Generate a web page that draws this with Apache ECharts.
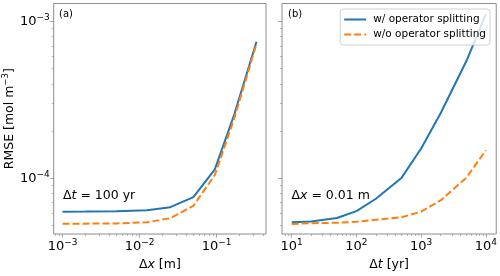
<!DOCTYPE html>
<html>
<head>
<meta charset="utf-8">
<script src="https://cdn.jsdelivr.net/npm/echarts@6/dist/echarts.min.js"></script>
<style>
html,body{margin:0;padding:0;background:#fff;}
#c{width:500px;height:276px;}
</style>
</head>
<body>
<div id="c"></div>
<script>
// ---- data ----
const dxValues = [0.001, 0.002, 0.005, 0.0125, 0.025, 0.05, 0.095, 0.17, 0.33];
const rmseDxWith = [6.13e-5, 6.14e-5, 6.16e-5, 6.25e-5, 6.55e-5, 7.59e-5, 1.14e-4, 2.56e-4, 7.43e-4];
const rmseDxWithout = [5.14e-5, 5.14e-5, 5.16e-5, 5.24e-5, 5.57e-5, 6.68e-5, 1.05e-4, 2.42e-4, 7.2e-4];

const dtValues = [10, 20, 50, 100, 200, 500, 1000, 2000, 5000, 10000];
const rmseDtWith = [5.24e-5, 5.3e-5, 5.58e-5, 6.18e-5, 7.41e-5, 1.01e-4, 1.55e-4, 2.6e-4, 5.6e-4, 1.11e-3];
const rmseDtWithout = [5.12e-5, 5.17e-5, 5.21e-5, 5.28e-5, 5.44e-5, 5.65e-5, 6.13e-5, 7.23e-5, 1.01e-4, 1.51e-4];

const seriesNames = ['w/ operator splitting', 'w/o operator splitting'];
const panelLabels = ['(a)', '(b)'];
const yMajorTicks = [1e-4, 1e-3];
const xMajorTicksA = [1e-3, 1e-2, 1e-1];
const xMajorTicksB = [1e1, 1e2, 1e3, 1e4];

// ---- helpers ----
function minors(lo, hi, from, to) {
  const out = [];
  for (let e = from; e <= to; e++) {
    for (let m = 2; m <= 9; m++) {
      const v = m * Math.pow(10, e);
      if (v > lo && v < hi) out.push(v);
    }
  }
  return out;
}
function pow10Label(v) {
  const e = Math.round(Math.log10(v));
  const s = e < 0 ? '\u2212' + (-e) : String(e);
  return '{b|10}{s|' + s + '}';
}
const FONT = 'DejaVu Sans';
const labelRich = {
  b: { fontSize: 13, fontFamily: FONT, color: '#000' },
  s: { fontSize: 9, fontFamily: FONT, color: '#000', padding: [0, 0, 8, 0] }
};

const yMin = Math.pow(10, -4.355), yMax = Math.pow(10, -2.885);
const xaMin = Math.pow(10, -3.115), xaMax = Math.pow(10, -0.358);
const xbMin = Math.pow(10, 0.85), xbMax = Math.pow(10, 4.16);

const gridTop = 3.5, gridH = 237.2;
const grids = [
  { left: 53.3, top: gridTop, width: 212.7, height: gridH, show: true, borderColor: '#8c8c8c', borderWidth: 1, backgroundColor: 'transparent' },
  { left: 282, top: gridTop, width: 214.7, height: gridH, show: true, borderColor: '#8c8c8c', borderWidth: 1, backgroundColor: 'transparent' }
];

const tickColor = '#8c8c8c';
function majorAxis(type, gridIndex, min, max, ticks, showLabels, extra) {
  return Object.assign({
    type: 'log', logBase: 10, gridIndex, min, max,
    axisLine: { show: false },
    splitLine: { show: false },
    axisTick: { show: true, inside: false, length: 3.5, customValues: ticks, lineStyle: { color: tickColor, width: 0.8 } },
    axisLabel: { show: showLabels, customValues: ticks, formatter: pow10Label, rich: labelRich, margin: 4 }
  }, extra || {});
}
function minorAxis(gridIndex, min, max, ticks, position) {
  return {
    type: 'log', logBase: 10, gridIndex, min, max, position,
    axisLine: { show: false }, splitLine: { show: false },
    axisTick: { show: true, inside: false, length: 2, customValues: ticks, lineStyle: { color: tickColor, width: 0.6 } },
    axisLabel: { show: false }
  };
}
const nameRich = {
  n: { fontSize: 12.5, fontFamily: FONT, color: '#000' },
  i: { fontSize: 12.5, fontFamily: FONT, fontStyle: 'italic', color: '#000' },
  s: { fontSize: 8.5, fontFamily: FONT, color: '#000', padding: [0, 0, 8, 0] }
};

const xAxes = [
  majorAxis('x', 0, xaMin, xaMax, xMajorTicksA, true, {
    name: '{n|\u0394}{i|x}{n| [m]}', nameLocation: 'middle', nameGap: 24, nameTextStyle: { rich: nameRich }
  }),
  majorAxis('x', 1, xbMin, xbMax, xMajorTicksB, true, {
    name: '{n|\u0394}{i|t}{n| [yr]}', nameLocation: 'middle', nameGap: 24, nameTextStyle: { rich: nameRich }
  }),
  minorAxis(0, xaMin, xaMax, minors(xaMin, xaMax, -4, 0), 'bottom'),
  minorAxis(1, xbMin, xbMax, minors(xbMin, xbMax, 0, 4), 'bottom')
];
const yAxes = [
  majorAxis('y', 0, yMin, yMax, yMajorTicks, true, {
    name: '{n|RMSE [mol m}{s|\u22123}{n|]}', nameLocation: 'middle', nameGap: 32, nameRotate: 90, nameTextStyle: { rich: nameRich }
  }),
  majorAxis('y', 1, yMin, yMax, yMajorTicks, false),
  minorAxis(0, yMin, yMax, minors(yMin, yMax, -5, -3), 'left'),
  minorAxis(1, yMin, yMax, minors(yMin, yMax, -5, -3), 'left')
];

const blue = '#1f77b4', orange = '#ff7f0e';
function lineSeries(name, xs, ys, idx, color, dashed) {
  return {
    name, type: 'line', xAxisIndex: idx, yAxisIndex: idx,
    data: xs.map((x, i) => [x, ys[i]]),
    symbol: 'none', showSymbol: false, smooth: false, silent: true, animation: false,
    lineStyle: { color, width: 2, type: dashed ? [7, 3] : 'solid' },
    itemStyle: { color }
  };
}

const annRich = {
  n: { fontSize: 12.5, fontFamily: FONT, color: '#000' },
  i: { fontSize: 12.5, fontFamily: FONT, fontStyle: 'italic', color: '#000' }
};

const option = {
  animation: false,
  backgroundColor: '#fff',
  grid: grids,
  xAxis: xAxes,
  yAxis: yAxes,
  legend: {
    data: seriesNames,
    orient: 'vertical',
    right: 10, top: 9,
    itemWidth: 22, itemHeight: 10, itemGap: 4,
    padding: [5, 4, 5, 3],
    backgroundColor: 'rgba(255,255,255,0.8)',
    borderColor: '#d0d0d0', borderWidth: 1, borderRadius: 3,
    itemStyle: { opacity: 0 },
    textStyle: { fontSize: 10.5, fontFamily: FONT, color: '#000', padding: [0, 0, 0, 2] }
  },
  series: [
    lineSeries(seriesNames[0], dxValues, rmseDxWith, 0, blue, false),
    lineSeries(seriesNames[1], dxValues, rmseDxWithout, 0, orange, true),
    lineSeries(seriesNames[0], dtValues, rmseDtWith, 1, blue, false),
    lineSeries(seriesNames[1], dtValues, rmseDtWithout, 1, orange, true)
  ],
  graphic: [
    { type: 'text', left: 59, top: 9.5, style: { text: panelLabels[0], font: '10px "DejaVu Sans"', fill: '#000' } },
    { type: 'text', left: 288, top: 9.5, style: { text: panelLabels[1], font: '10px "DejaVu Sans"', fill: '#000' } },
    { type: 'text', left: 63, top: 189, style: { text: '{n|\u0394}{i|t}{n| = 100 yr}', rich: annRich } },
    { type: 'text', left: 291.5, top: 189, style: { text: '{n|\u0394}{i|x}{n| = 0.01 m}', rich: annRich } }
  ]
};

const chart = echarts.init(document.getElementById('c'), null, { renderer: 'canvas' });
chart.setOption(option);
</script>
</body>
</html>
